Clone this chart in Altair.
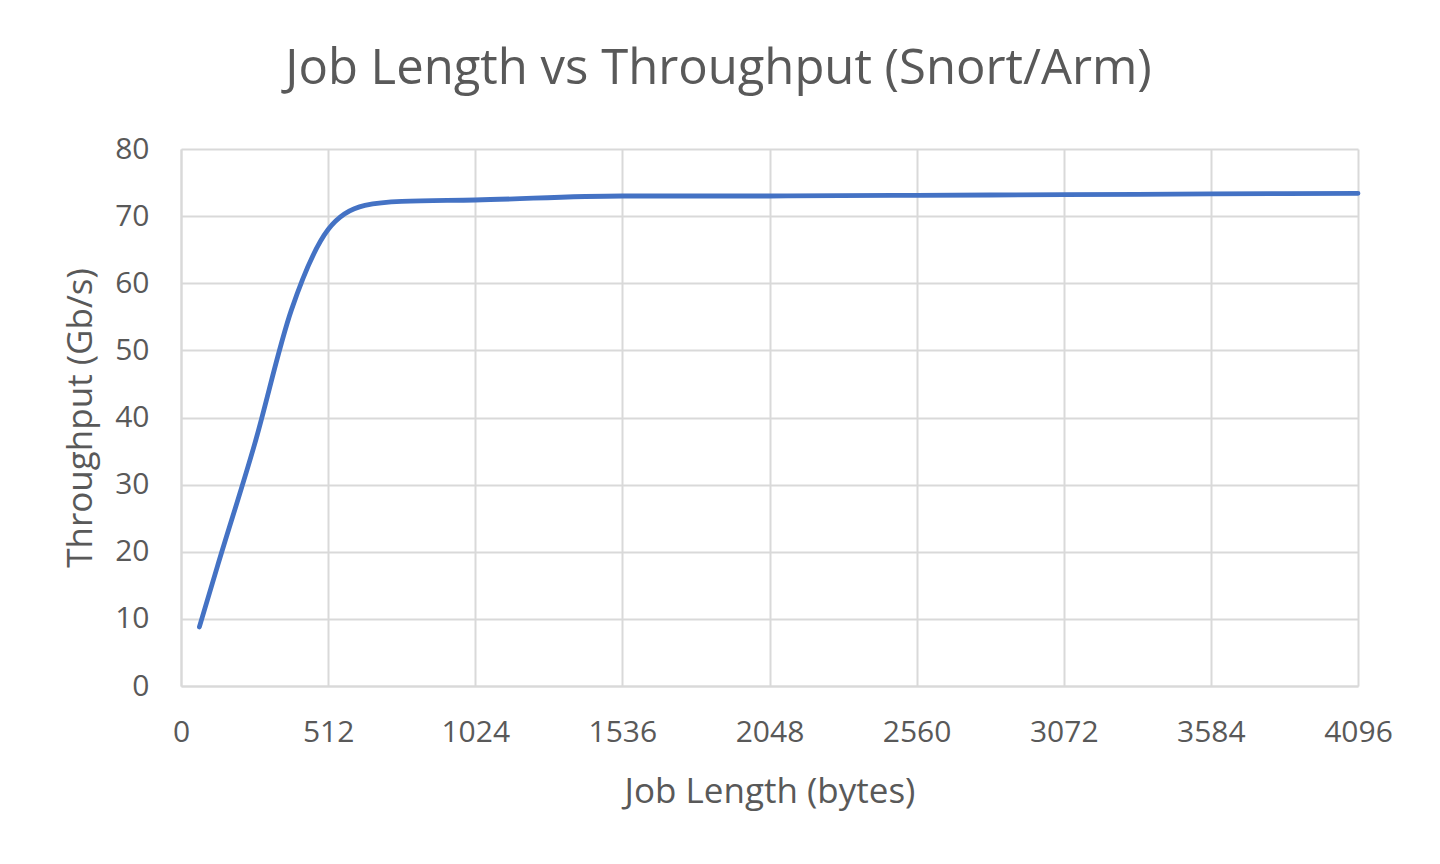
import altair as alt
import pandas as pd

job_length = [64, 128, 256, 384, 512, 640, 768, 1024, 1536, 2048, 2560, 3072, 3584, 4096]
throughput = [8.8, 18.0, 36.0, 56.0, 68.0, 71.6, 72.2, 72.4, 73.0, 73.0, 73.1, 73.2, 73.3, 73.4]
x_ticks = [0, 512, 1024, 1536, 2048, 2560, 3072, 3584, 4096]
y_ticks = [0, 10, 20, 30, 40, 50, 60, 70, 80]

df = pd.DataFrame({"Job Length (bytes)": job_length, "Throughput (Gb/s)": throughput})

FONT = "Open Sans"
TXT = "#595959"
GRID = "#d9d9d9"

chart = (
    alt.Chart(df)
    .mark_line(color="#4472C4", strokeWidth=4.8, interpolate="monotone", strokeCap="round")
    .encode(
        x=alt.X(
            "Job Length (bytes):Q",
            scale=alt.Scale(domain=[0, 4096], nice=False, zero=True),
            axis=alt.Axis(values=x_ticks, format="d", title="Job Length (bytes)",
                          labelPadding=31, titlePadding=27, labelFlush=False, labelOverlap=False),
        ),
        y=alt.Y(
            "Throughput (Gb/s):Q",
            scale=alt.Scale(domain=[0, 80], nice=False),
            axis=alt.Axis(values=y_ticks, format="d", title="Throughput (Gb/s)",
                          labelPadding=32, titlePadding=16, labelFlush=False, labelOverlap=False),
        ),
    )
    .properties(
        width=1177,
        height=537,
        title=alt.TitleParams(
            "Job Length vs Throughput (Snort/Arm)",
            font=FONT,
            fontSize=49,
            fontWeight="normal",
            color=TXT,
            offset=40,
            anchor="middle",
            dx=-51,
        ),
        padding={"left": 173, "top": 141, "right": 74, "bottom": 150},
        autosize=alt.AutoSizeParams(type="none"),
    )
    .configure_view(stroke=None)
    .configure_axis(
        labelFont=FONT,
        titleFont=FONT,
        labelFontSize=30,
        titleFontSize=35,
        labelColor=TXT,
        titleColor=TXT,
        titleFontWeight="normal",
        gridColor=GRID,
        gridWidth=2,
        domainColor=GRID,
        domainWidth=2,
        ticks=False,
        grid=True,
    )
)

chart.save("out.html", embed_options={"renderer": "svg", "actions": False})
